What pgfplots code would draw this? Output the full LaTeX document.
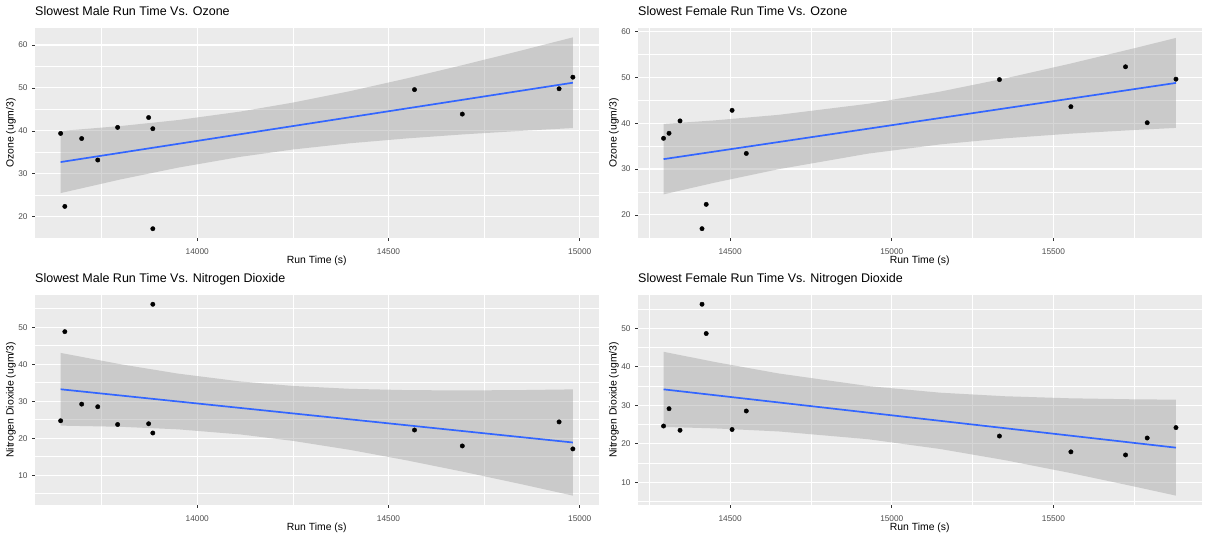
\documentclass[border=0pt]{standalone}
\usepackage{fontspec}
\setmainfont{Liberation Sans}
\usepackage{pgfplots}
\pgfplotsset{compat=1.18}
\definecolor{panel}{RGB}{235,235,235}
\definecolor{band}{RGB}{153,153,153}
\definecolor{fit}{RGB}{51,102,255}
\definecolor{ticktext}{RGB}{77,77,77}
\definecolor{tickline}{RGB}{51,51,51}

\pgfplotsset{
  gg/.style={
    scale only axis, width=563.5pt, height=210.5pt, anchor=south west,
    axis background/.style={fill=panel},
    axis line style={draw=none},
    grid=both,
    major grid style={white, line width=1.1pt},
    minor grid style={white, line width=0.55pt},
    tick align=outside, major tick length=2.75pt, minor tick length=0pt,
    xtick pos=bottom, ytick pos=left,
    scaled x ticks=false, scaled y ticks=false,
    tick style={tickline, line width=0.6pt},
    tick label style={font=\fontsize{8.3}{9}\selectfont, text=ticktext, inner sep=0pt},
    x tick label style={anchor=base, yshift=-13.5pt},
    y tick label style={anchor=east, xshift=-4.5pt},
    title style={at={(axis description cs:0,1)}, anchor=base west, yshift=6.3pt,
      inner sep=0pt, font=\fontsize{12.5}{14}\selectfont},
    xlabel style={at={(axis description cs:0.5,0)}, anchor=base, yshift=-24.8pt,
      inner sep=0pt, font=\fontsize{10.4}{12}\selectfont},
    ylabel style={at={(axis description cs:-0.0426,0.5)}, anchor=center,
      inner sep=0pt, font=\fontsize{10.4}{12}\selectfont},
    xlabel={Run Time (s)},
  },
  male/.style={xmin=13576, xmax=15049,
    xtick={14000,14500,15000}, xticklabels={14000,14500,15000},
    minor xtick={13750,14250,14750}},
  female/.style={xmin=14215, xmax=15958,
    xtick={14500,15000,15500}, xticklabels={14500,15000,15500},
    minor xtick={14250,14750,15250,15750}},
  ozone/.style={ytick={20,30,40,50,60}, yticklabels={20,30,40,50,60},
    minor ytick={15,25,35,45,55}, ylabel={Ozone (ugm/3)}},
  no2/.style={ytick={10,20,30,40,50}, yticklabels={10,20,30,40,50},
    minor ytick={5,15,25,35,45,55}, ylabel={Nitrogen Dioxide (ugm/3)}},
  bandstyle/.style={fill=band, fill opacity=0.4, draw=none},
  fitstyle/.style={fit, line width=1.7pt},
  ptstyle/.style={only marks, mark=*, mark size=2.2pt, black},
}

\begin{document}
\begin{tikzpicture}
\useasboundingbox (0,0) rectangle (1205pt,536pt);

% male, ozone
\begin{axis}[gg, male, ozone, at={(35pt,297.7pt)}, ymin=14.97, ymax=64.0,
  title={Slowest Male Run Time Vs. Ozone}]
  \addplot[bandstyle] coordinates {
    (13643,39.96) (13800,41.12) (13950,42.51) (14113,44.49) (14250,46.57)
    (14400,49.25) (14550,52.25) (14700,55.44) (14850,58.77) (14982,61.77)
    (14982,40.65) (14850,40.01) (14700,39.20) (14550,38.25) (14400,37.11)
    (14250,35.65) (14113,33.95) (13950,31.43) (13800,28.69) (13643,25.50)};
  \addplot[fitstyle] coordinates {(13643,32.73) (14982,51.21)};
  \addplot[ptstyle] coordinates {
    (13643,39.4) (13654,22.4) (13698,38.2) (13740,33.2) (13792,40.8) (13873,43.1)
    (13884,40.5) (13884,17.2) (14568,49.6) (14693,43.9) (14946,49.8) (14982,52.5)};
\end{axis}

% female, ozone
\begin{axis}[gg, female, ozone, at={(638pt,297.7pt)}, ymin=14.9, ymax=60.8,
  title={Slowest Female Run Time Vs. Ozone}]
  \addplot[bandstyle] coordinates {
    (14294,39.84) (14450,40.60) (14650,41.82) (14927,44.23) (15150,46.89)
    (15350,49.76) (15550,52.95) (15750,56.34) (15879,58.59)
    (15879,38.97) (15750,38.52) (15550,37.71) (15350,36.70) (15150,35.38)
    (14927,33.37) (14650,29.97) (14450,27.00) (14294,24.48)};
  \addplot[fitstyle] coordinates {(14294,32.16) (15879,48.78)};
  \addplot[ptstyle] coordinates {
    (14294,36.7) (14311,37.8) (14345,40.5) (14426,22.3) (14413,17.0) (14506,42.8)
    (14550,33.4) (15333,49.5) (15554,43.6) (15723,52.3) (15790,40.1) (15879,49.6)};
\end{axis}

% male, nitrogen dioxide
\begin{axis}[gg, male, no2, at={(35pt,30.8pt)}, ymin=1.88, ymax=58.79,
  title={Slowest Male Run Time Vs. Nitrogen Dioxide}]
  \addplot[bandstyle] coordinates {
    (13643,43.05) (13800,39.98) (13950,37.45) (14113,35.33) (14250,34.12)
    (14400,33.34) (14550,32.99) (14700,32.91) (14850,33.01) (14982,33.19)
    (14982,4.47) (14850,7.50) (14700,10.82) (14550,13.96) (14400,16.83)
    (14250,19.27) (14113,21.01) (13950,22.39) (13800,23.08) (13643,23.39)};
  \addplot[fitstyle] coordinates {(13643,33.22) (14982,18.83)};
  \addplot[ptstyle] coordinates {
    (13643,24.7) (13654,48.8) (13698,29.2) (13740,28.5) (13792,23.7) (13873,23.9)
    (13884,21.4) (13884,56.2) (14568,22.2) (14693,17.9) (14946,24.4) (14982,17.1)};
\end{axis}

% female, nitrogen dioxide
\begin{axis}[gg, female, no2, at={(638pt,30.8pt)}, ymin=4.06, ymax=58.68,
  title={Slowest Female Run Time Vs. Nitrogen Dioxide}]
  \addplot[bandstyle] coordinates {
    (14294,43.87) (14450,41.26) (14650,38.24) (14927,34.97) (15150,33.25)
    (15350,32.33) (15550,31.80) (15750,31.53) (15879,31.45)
    (15879,6.54) (15750,8.91) (15550,12.46) (15350,15.75) (15150,18.64)
    (14927,21.18) (14650,23.20) (14450,24.00) (14294,24.37)};
  \addplot[fitstyle] coordinates {(14294,34.12) (15879,18.99)};
  \addplot[ptstyle] coordinates {
    (14294,24.6) (14311,29.1) (14345,23.5) (14413,56.2) (14426,48.6) (14506,23.7)
    (14550,28.5) (15333,22.0) (15554,17.9) (15723,17.1) (15790,21.5) (15879,24.2)};
\end{axis}
\end{tikzpicture}
\end{document}
